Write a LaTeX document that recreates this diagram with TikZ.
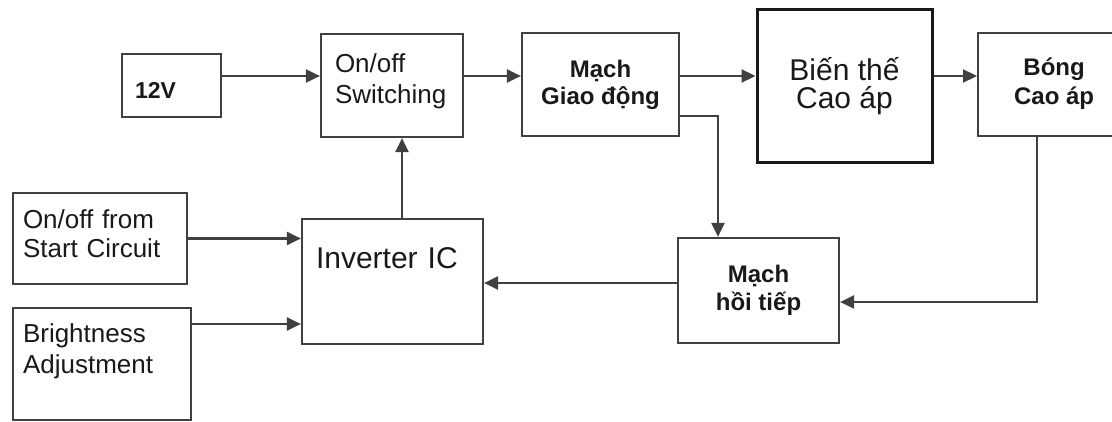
\documentclass[tikz,border=0pt]{standalone}
\usepackage{fontspec}
\setmainfont{Liberation Sans}
\usetikzlibrary{arrows.meta}

\begin{document}
\begin{tikzpicture}[x=0.5pt,y=-0.5pt,
    >={Triangle[length=7pt,width=6.5pt]},
    blk/.style={draw=black!75,line width=1.1pt,inner sep=0pt,text=black!90},
    lbox/.style={blk,align=left,font=\fontsize{13}{15.5}\selectfont},
    vbox/.style={blk,align=center,font=\bfseries\fontsize{12}{14}\selectfont}]
      \useasboundingbox (0,0) rectangle (1112,422);

      \node[lbox,inner xsep=6.5pt,text width=36.5pt,minimum height=31.5pt,text height=13.5pt,text depth=0pt,font=\bfseries\fontsize{11.5}{14}\selectfont] (v) at (171.5,85.5){12V};
      \node[lbox,inner xsep=7pt,text width=57pt,minimum height=51.5pt,text height=10pt,text depth=22.5pt] (sw) at (392,85.5){On/off\\Switching};
      \node[vbox,minimum width=78.5pt,minimum height=51.5pt,font=\bfseries\fontsize{12}{13.5}\selectfont] (osc) at (600.5,84.5){Mạch\\Giao động};
      \node[blk,line width=1.5pt,draw=black!90,align=center,minimum width=87.5pt,minimum height=76.5pt,font=\fontsize{15}{14}\selectfont] (tf) at (844.5,86.5){Biến thế\\Cao áp};
      % box runs off the right edge
      \node[blk,anchor=west,inner xsep=18pt,minimum height=51.5pt,font=\bfseries\fontsize{12}{14.5}\selectfont] (lamp) at (977,84.5){\begin{tabular}{@{}c@{}}Bóng\\Cao áp\end{tabular}\hspace{40pt}};

      \node[lbox,inner xsep=5pt,text width=77pt,minimum height=45.5pt,text height=10pt,text depth=20.5pt,font=\fontsize{13}{14.5}\selectfont] (start) at (100,238.5){On/off from\\Start Circuit};
      \node[lbox,inner xsep=5pt,text width=79pt,minimum height=56pt,text height=10pt,text depth=32pt] (br) at (102,364){Brightness\\Adjustment};
      \node[lbox,inner xsep=7pt,text width=76.5pt,minimum height=62.5pt,text height=11pt,text depth=24.5pt,font=\fontsize{15}{18}\selectfont] (inv) at (392.5,281.5){Inverter IC};
      \node[vbox,minimum width=80.5pt,minimum height=52.5pt] (fb) at (758.5,290.5){Mạch\\hồi tiếp};

      % rows and columns of the wires
      \coordinate (toprow) at (0,76);
      \coordinate (ctrl) at (402,0);
      \coordinate (brrow) at (0,324);
      \coordinate (backrow) at (0,283);
      \coordinate (taprow) at (0,116);
      \coordinate (tapcol) at (718,0);
      \coordinate (lampcol) at (1037,0);
      \coordinate (lamprow) at (0,302);

      \begin{scope}[draw=black!75,line width=1.1pt]
      \draw[->] (v.east |- toprow) -- (sw.west |- toprow);
      \draw[->] (sw.east |- toprow) -- (osc.west |- toprow);
      \draw[->] (osc.east |- toprow) -- (tf.west |- toprow);
      \draw[->] (tf.east |- toprow) -- (lamp.west |- toprow);
      \draw[->] (ctrl |- inv.north) -- (ctrl |- sw.south);
      \draw[->] (start.east) -- (start.east -| inv.west);
      \draw[->] (br.east |- brrow) -- (inv.west |- brrow);
      \draw[->] (fb.west |- backrow) -- (inv.east |- backrow);
      \draw[->] (osc.east |- taprow) -| (tapcol |- fb.north);
      \draw[->] (lampcol |- lamp.south) |- (fb.east |- lamprow);
      \end{scope}
\end{tikzpicture}
\end{document}
